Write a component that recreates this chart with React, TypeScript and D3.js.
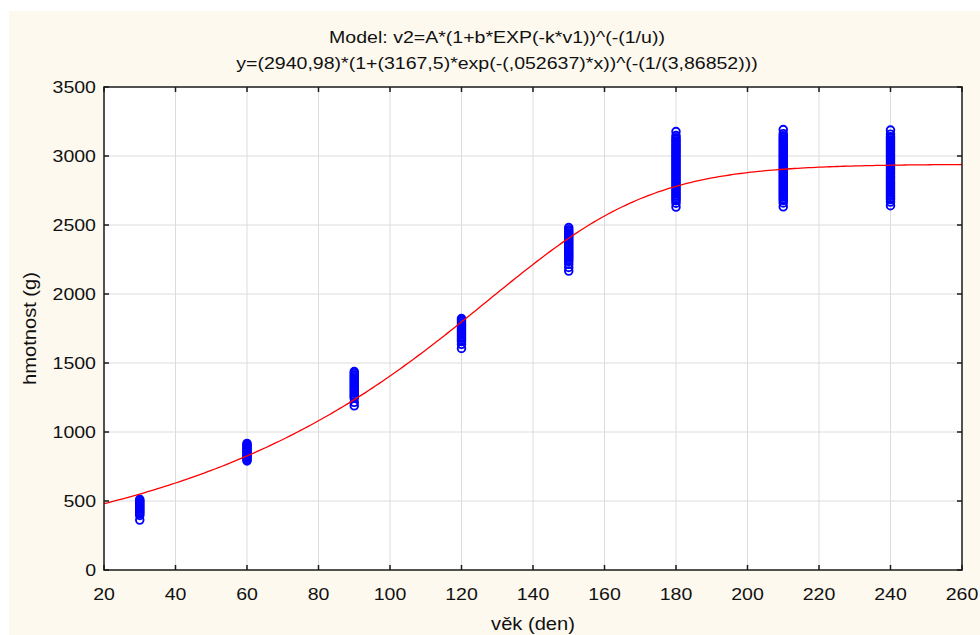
import * as d3 from 'd3';
import { useEffect, useRef } from 'react';

// věk (den) — kategorie měření
const ages = [30, 60, 90, 120, 150, 180, 210, 240];

// hmotnost (g) pro každý věk
const w30 = [362, 395, 405, 414, 423, 432, 441, 450, 459, 468, 477, 486, 495, 503, 512];
const w60 = [790, 800, 810, 819, 828, 837, 846, 855, 864, 873, 882, 891, 900, 909, 917];
const w90 = [1190, 1215, 1245, 1257, 1269, 1281, 1293, 1305, 1317, 1329, 1341, 1353, 1365, 1377, 1389, 1401, 1413, 1425, 1438];
const w120 = [1605, 1635, 1656, 1668, 1680, 1692, 1704, 1716, 1728, 1740, 1752, 1764, 1776, 1788, 1800, 1811, 1822];
const w150 = [2166, 2192, 2215, 2236, 2250, 2262, 2274, 2286, 2298, 2310, 2322, 2334, 2346, 2358, 2370, 2382, 2394, 2406, 2418, 2430, 2442, 2454, 2466, 2482];
const w180 = [2630, 2658, 2676, 2688, 2700, 2712, 2724, 2736, 2748, 2760, 2772, 2784, 2796, 2808, 2820, 2832, 2844, 2856, 2868, 2880, 2892, 2904, 2916, 2928, 2940, 2952, 2964, 2976, 2988, 3000, 3012, 3024, 3036, 3048, 3060, 3072, 3084, 3096, 3108, 3120, 3132, 3148, 3177];
const w210 = [2632, 2660, 2678, 2690, 2702, 2714, 2726, 2738, 2750, 2762, 2774, 2786, 2798, 2810, 2822, 2834, 2846, 2858, 2870, 2882, 2894, 2906, 2918, 2930, 2942, 2954, 2966, 2978, 2990, 3002, 3014, 3026, 3038, 3050, 3062, 3074, 3086, 3098, 3110, 3122, 3134, 3146, 3162, 3192];
const w240 = [2640, 2666, 2684, 2696, 2708, 2720, 2732, 2744, 2756, 2768, 2780, 2792, 2804, 2816, 2828, 2840, 2852, 2864, 2876, 2888, 2900, 2912, 2924, 2936, 2948, 2960, 2972, 2984, 2996, 3008, 3020, 3032, 3044, 3056, 3068, 3080, 3092, 3104, 3116, 3128, 3140, 3158, 3188];
const weights = [w30, w60, w90, w120, w150, w180, w210, w240];

// parametry modelu z titulku
const A = 2940.98;
const b = 3167.5;
const k = 0.052637;
const u = 3.86852;

const xTicks = [20, 40, 60, 80, 100, 120, 140, 160, 180, 200, 220, 240, 260];
const yTicks = [0, 500, 1000, 1500, 2000, 2500, 3000, 3500];

const title1 = 'Model: v2=A*(1+b*EXP(-k*v1))^(-(1/u))';
const title2 = 'y=(2940,98)*(1+(3167,5)*exp(-(,052637)*x))^(-(1/(3,86852)))';

const App = () => {
  const ref = useRef<SVGSVGElement>(null);

  const width = 980;
  const height = 635;
  const margin = { top: 87, right: 18, bottom: 65, left: 104 };

  useEffect(() => {
    if (!ref.current) return;
    const svg = d3.select(ref.current);
    svg.selectAll('*').remove();

    const font = 'Arial, "Liberation Sans", sans-serif';
    const sx = 1.15; // text je v originále roztažený do šířky
    const x = d3.scaleLinear().domain([20, 260]).range([margin.left, width - margin.right]);
    const y = d3.scaleLinear().domain([0, 3500]).range([height - margin.bottom, margin.top]);
    const [x0, x1] = x.range();
    const [y0, y1] = y.range();

    // pomocná funkce pro text
    const label = (g: any, tx: number, ty: number, str: string | number, anchor: string, rot = 0) =>
      g.append('text')
        .attr('transform', `translate(${tx},${ty}) rotate(${rot}) scale(${sx},1)`)
        .attr('text-anchor', anchor)
        .text(str);

    // pozadí
    svg.append('rect').attr('width', width).attr('height', height).attr('fill', '#fff');
    svg.append('rect').attr('x', 9).attr('y', 11).attr('width', width - 9).attr('height', height - 11).attr('fill', '#fdf9ef');
    svg.append('rect').attr('x', x0).attr('y', y1).attr('width', x1 - x0).attr('height', y0 - y1).attr('fill', '#fff');

    // mřížka
    const grid = svg.append('g').attr('stroke', '#dcdcdc').attr('stroke-width', 1);
    xTicks.slice(1, -1).forEach(t => {
      grid.append('line').attr('x1', x(t)).attr('x2', x(t)).attr('y1', y1).attr('y2', y0);
    });
    yTicks.slice(1, -1).forEach(t => {
      grid.append('line').attr('x1', x0).attr('x2', x1).attr('y1', y(t)).attr('y2', y(t));
    });

    // body
    const pts = svg.append('g').attr('fill', 'none').attr('stroke', '#0000ff').attr('stroke-width', 1.9);
    ages.forEach((age, i) => {
      weights[i].forEach(w => {
        pts.append('circle').attr('cx', x(age)).attr('cy', y(w)).attr('r', 3.8);
      });
    });

    // křivka modelu
    const model = (v: number) => A * Math.pow(1 + b * Math.exp(-k * v), -1 / u);
    const xs = d3.range(20, 260.01, 1);
    const line = d3.line<number>().x(v => x(v)).y(v => y(model(v)));
    svg.append('path')
      .attr('d', line(xs))
      .attr('fill', 'none')
      .attr('stroke', '#ff0000')
      .attr('stroke-width', 1.3);

    // rám a tiky dovnitř
    const axis = svg.append('g').attr('stroke', '#1a1a1a').attr('stroke-width', 1.5);
    axis.append('rect').attr('x', x0).attr('y', y1).attr('width', x1 - x0).attr('height', y0 - y1).attr('fill', 'none');
    xTicks.forEach(t => {
      axis.append('line').attr('x1', x(t)).attr('x2', x(t)).attr('y1', y0).attr('y2', y0 - 5);
      axis.append('line').attr('x1', x(t)).attr('x2', x(t)).attr('y1', y1).attr('y2', y1 + 5);
    });
    yTicks.forEach(t => {
      axis.append('line').attr('x1', x0).attr('x2', x0 + 5).attr('y1', y(t)).attr('y2', y(t));
      axis.append('line').attr('x1', x1).attr('x2', x1 - 5).attr('y1', y(t)).attr('y2', y(t));
    });

    // popisky tiků
    const labels = svg.append('g').attr('font-family', font).attr('font-size', 17).attr('fill', '#111');
    xTicks.forEach(t => label(labels, x(t), y0 + 30, t, 'middle'));
    yTicks.forEach(t => label(labels, x0 - 8, y(t) + 6, t, 'end'));

    // názvy os
    const titles = svg.append('g').attr('font-family', font).attr('font-size', 17.5).attr('fill', '#111');
    label(titles, (x0 + x1) / 2, 630, 'věk (den)', 'middle');
    label(titles, 36, (y0 + y1) / 2, 'hmotnost (g)', 'middle', -90);

    // titulek
    const tt = svg.append('g').attr('font-family', font).attr('font-size', 17).attr('fill', '#111');
    label(tt, 497, 43, title1, 'middle');
    label(tt, 497, 69, title2, 'middle');
  }, []);

  return (
    <svg
      ref={ref}
      width={width}
      height={height}
      style={{ position: 'absolute', left: 0, top: 0, display: 'block' }}
    ></svg>
  );
};

export default App;
